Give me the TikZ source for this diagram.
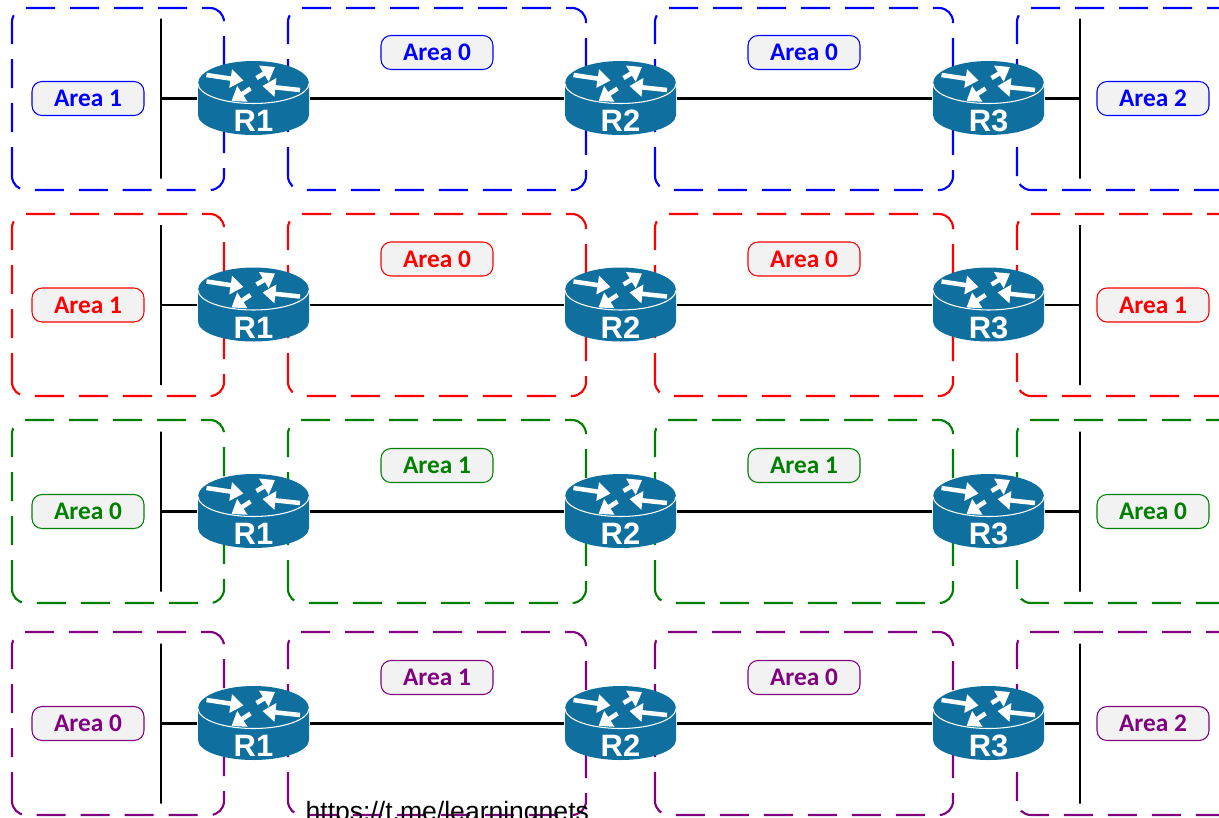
\documentclass[tikz,border=0pt]{standalone}
\usepackage{fontspec}
\setmainfont{Carlito}
\newfontfamily\arialfont{Liberation Sans}
\usepackage{tikz}
\usetikzlibrary{arrows.meta}
\definecolor{ciscoblue}{HTML}{0F6F9E}
\definecolor{areagray}{HTML}{F2F2F2}
\definecolor{areapurple}{HTML}{800080}
\tikzset{
  zone/.style={line width=0.6pt,rounded corners=0.14cm,dash pattern=on 0.29cm off 0.15cm},
  area/.style={draw,fill=areagray,rounded corners=0.1cm,minimum width=1.12cm,minimum height=0.34cm,inner sep=0pt,line width=0.3pt,font=\bfseries\fontsize{7.2}{8}\selectfont},
  seg/.style={draw=black,minimum width=0pt,minimum height=1.6cm,inner sep=0pt,line width=0.6pt},
  wire/.style={draw=black,line width=0.6pt},
  flow/.style={white,line width=0.045cm,-{Triangle[length=0.13cm,width=0.18cm]}},
  router/.pic={
    \fill[ciscoblue] (-0.555,0.15) -- (-0.555,-0.165) arc[start angle=180,end angle=360,x radius=0.555,y radius=0.2] -- (0.555,0.15) arc[start angle=0,end angle=180,x radius=0.555,y radius=0.225] -- cycle;
    \draw[white,line width=0.3pt] (-0.555,0.15) arc[start angle=180,end angle=360,x radius=0.555,y radius=0.2];
    \draw[flow] (-0.47,0.235) -- (-0.10,0.18);
    \draw[flow] (0.03,0.205) -- (0.215,0.315);
    \draw[flow] (0.465,0.085) -- (0.09,0.125);
    \draw[flow] (-0.03,0.10) -- (-0.22,-0.025);
    \node[name=-body,minimum width=1.11cm,minimum height=0.75cm,inner sep=0pt,text=white,font=\arialfont\bfseries\fontsize{8.8}{9}\selectfont]{\raisebox{-0.33cm}[0pt][0pt]{\tikzpictext}};
  }
}
\begin{document}
\begin{tikzpicture}
    \useasboundingbox (0,0) rectangle (12.19,-8.17);
    \clip (0,0) rectangle (12.19,-8.17);

    \begin{scope}[blue]
    \draw[zone] (0.12,-1.90) rectangle (2.24,-0.08);
    \draw[zone] (2.88,-1.90) rectangle (5.86,-0.08);
    \draw[zone] (6.55,-1.90) rectangle (9.53,-0.08);
    \draw[zone] (10.17,-1.90) rectangle (12.40,-0.08);
    \draw node at (0.88,-0.985)[area,name=a1b]{Area 1};
    \draw node at (4.37,-0.525)[area,name=a2b]{Area 0};
    \draw node at (8.04,-0.525)[area,name=a3b]{Area 0};
    \draw node at (11.53,-0.985)[area,name=a4b]{Area 2};
    \draw node at (1.61,-0.985)[seg,name=s1b]{};
    \draw node at (10.80,-0.985)[seg,name=s2b]{};
    \pic (r1b) at (2.535,-0.985) [pic text=R1] {router};
    \pic (r2b) at (6.205,-0.985) [pic text=R2] {router};
    \pic (r3b) at (9.885,-0.985) [pic text=R3] {router};
    \draw[wire] (s1b) -- (r1b-body);
    \draw[wire] (r1b-body) -- (r2b-body);
    \draw[wire] (r2b-body) -- (r3b-body);
    \draw[wire] (r3b-body) -- (s2b);
    \end{scope}

    \begin{scope}[red]
    \draw[zone] (0.12,-3.96) rectangle (2.24,-2.14);
    \draw[zone] (2.88,-3.96) rectangle (5.86,-2.14);
    \draw[zone] (6.55,-3.96) rectangle (9.53,-2.14);
    \draw[zone] (10.17,-3.96) rectangle (12.40,-2.14);
    \draw node at (0.88,-3.05)[area,name=a1r]{Area 1};
    \draw node at (4.37,-2.59)[area,name=a2r]{Area 0};
    \draw node at (8.04,-2.59)[area,name=a3r]{Area 0};
    \draw node at (11.53,-3.05)[area,name=a4r]{Area 1};
    \draw node at (1.61,-3.05)[seg,name=s1r]{};
    \draw node at (10.80,-3.05)[seg,name=s2r]{};
    \pic (r1r) at (2.535,-3.05) [pic text=R1] {router};
    \pic (r2r) at (6.205,-3.05) [pic text=R2] {router};
    \pic (r3r) at (9.885,-3.05) [pic text=R3] {router};
    \draw[wire] (s1r) -- (r1r-body);
    \draw[wire] (r1r-body) -- (r2r-body);
    \draw[wire] (r2r-body) -- (r3r-body);
    \draw[wire] (r3r-body) -- (s2r);
    \end{scope}

    \begin{scope}[green!50!black]
    \draw[zone] (0.12,-6.03) rectangle (2.24,-4.20);
    \draw[zone] (2.88,-6.03) rectangle (5.86,-4.20);
    \draw[zone] (6.55,-6.03) rectangle (9.53,-4.20);
    \draw[zone] (10.17,-6.03) rectangle (12.40,-4.20);
    \draw node at (0.88,-5.115)[area,name=a1g]{Area 0};
    \draw node at (4.37,-4.655)[area,name=a2g]{Area 1};
    \draw node at (8.04,-4.655)[area,name=a3g]{Area 1};
    \draw node at (11.53,-5.115)[area,name=a4g]{Area 0};
    \draw node at (1.61,-5.115)[seg,name=s1g]{};
    \draw node at (10.80,-5.115)[seg,name=s2g]{};
    \pic (r1g) at (2.535,-5.115) [pic text=R1] {router};
    \pic (r2g) at (6.205,-5.115) [pic text=R2] {router};
    \pic (r3g) at (9.885,-5.115) [pic text=R3] {router};
    \draw[wire] (s1g) -- (r1g-body);
    \draw[wire] (r1g-body) -- (r2g-body);
    \draw[wire] (r2g-body) -- (r3g-body);
    \draw[wire] (r3g-body) -- (s2g);
    \end{scope}

    \begin{scope}[areapurple]
    \draw[zone] (0.12,-8.15) rectangle (2.24,-6.32);
    \draw[zone] (2.88,-8.15) rectangle (5.86,-6.32);
    \draw[zone] (6.55,-8.15) rectangle (9.53,-6.32);
    \draw[zone] (10.17,-8.15) rectangle (12.40,-6.32);
    \draw node at (0.88,-7.235)[area,name=a1p]{Area 0};
    \draw node at (4.37,-6.775)[area,name=a2p]{Area 1};
    \draw node at (8.04,-6.775)[area,name=a3p]{Area 0};
    \draw node at (11.53,-7.235)[area,name=a4p]{Area 2};
    \draw node at (1.61,-7.235)[seg,name=s1p]{};
    \draw node at (10.80,-7.235)[seg,name=s2p]{};
    \pic (r1p) at (2.535,-7.235) [pic text=R1] {router};
    \pic (r2p) at (6.205,-7.235) [pic text=R2] {router};
    \pic (r3p) at (9.885,-7.235) [pic text=R3] {router};
    \draw[wire] (s1p) -- (r1p-body);
    \draw[wire] (r1p-body) -- (r2p-body);
    \draw[wire] (r2p-body) -- (r3p-body);
    \draw[wire] (r3p-body) -- (s2p);
    \end{scope}

    \draw node at (3.05,-8.20)[anchor=base west,inner sep=0pt,font=\arialfont\fontsize{7.55}{9}\selectfont,name=url]{https://t.me/learningnets};
\end{tikzpicture}
\end{document}
